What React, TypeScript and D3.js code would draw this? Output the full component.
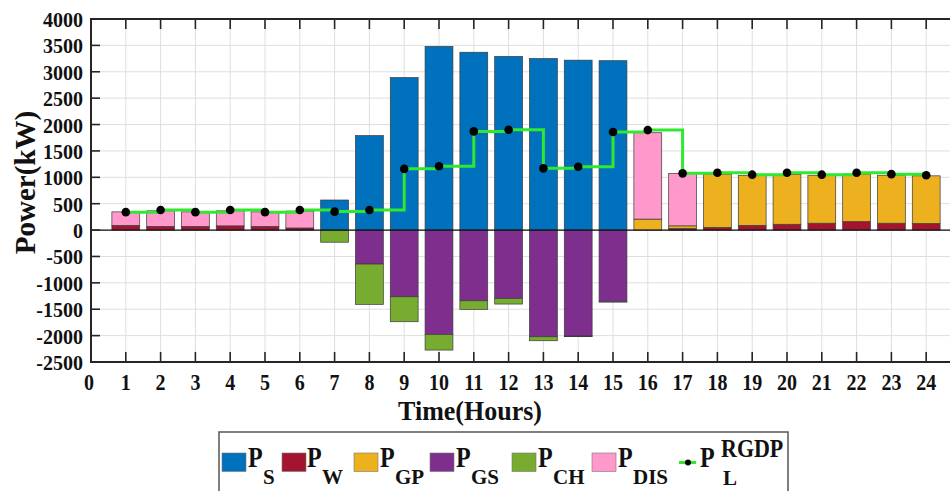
import React, { useRef, useEffect } from 'react'
import * as d3 from 'd3'

// hourly dispatch (kW)
const hours = [1, 2, 3, 4, 5, 6, 7, 8, 9, 10, 11, 12, 13, 14, 15, 16, 17, 18, 19, 20, 21, 22, 23, 24]
const pS = [0, 0, 0, 0, 0, 0, 570, 1790, 2890, 3480, 3370, 3290, 3250, 3220, 3210, 0, 0, 0, 0, 0, 0, 0, 0, 0]
const pW = [90, 70, 70, 80, 70, 40, 0, 0, 0, 0, 0, 0, 0, 0, 0, 0, 30, 50, 90, 110, 130, 160, 130, 125]
const pGP = [0, 0, 0, 0, 0, 0, 0, 0, 0, 0, 0, 0, 0, 0, 0, 208, 50, 1010, 948, 942, 909, 903, 909, 903]
const pDIS = [255, 295, 275, 285, 275, 320, 0, 0, 0, 0, 0, 0, 0, 0, 0, 1637, 994, 0, 0, 0, 0, 0, 0, 0]
const pGS = [0, 0, 0, 0, 0, 0, 0, -644, -1264, -1977, -1340, -1294, -2022, -2009, -1358, 0, 0, 0, 0, 0, 0, 0, 0, 0]
const pCH = [0, 0, 0, 0, 0, 0, -230, -764, -473, -297, -163, -108, -75, -11, -7, 0, 0, 0, 0, 0, 0, 0, 0, 0]
const pL = [340, 380, 340, 380, 340, 380, 350, 380, 1160, 1210, 1870, 1900, 1170, 1200, 1860, 1895, 1075, 1085, 1050, 1085, 1050, 1085, 1060, 1040]

const xTicks = [0, 1, 2, 3, 4, 5, 6, 7, 8, 9, 10, 11, 12, 13, 14, 15, 16, 17, 18, 19, 20, 21, 22, 23, 24, 25]
const yTicks = [-2500, -2000, -1500, -1000, -500, 0, 500, 1000, 1500, 2000, 2500, 3000, 3500, 4000]

const seriesKeys = ['S', 'W', 'GP', 'DIS', 'GS', 'CH']
const seriesValues: Record<string, number[]> = { S: pS, W: pW, GP: pGP, DIS: pDIS, GS: pGS, CH: pCH }
const colors: Record<string, string> = {
    S: '#0072bd', W: '#a2142f', GP: '#edb120', GS: '#7e2f8e', CH: '#77ac30', DIS: '#ff99cc'
}

const FONT = '"Liberation Serif", "Times New Roman", serif'

export default function App() {
    const ref = useRef<SVGSVGElement>(null)

    useEffect(() => {
        const height = 491
        const margin = { left: 91, top: 19, bottom: 129 }
        const svg = d3.select(ref.current)
        svg.selectAll('*').remove()

        const x = d3.scaleLinear().domain([0, 25]).range([margin.left, margin.left + 25 * 34.8])
        const y = d3.scaleLinear().domain([-2500, 4000]).range([height - margin.bottom, margin.top])
        const barW = 34.8 * 0.8
        const x0 = x(0), x1 = x(25), yTop = y(4000), yBot = y(-2500)

        // grid
        const grid = svg.append('g').attr('stroke', '#dedede').attr('stroke-width', 1)
        grid.selectAll('line.gx').data(xTicks).join('line')
            .attr('x1', d => x(d)).attr('x2', d => x(d)).attr('y1', yTop).attr('y2', yBot)
        grid.selectAll('line.gy').data(yTicks).join('line')
            .attr('x1', x0).attr('x2', x1).attr('y1', d => y(d)).attr('y2', d => y(d))

        // stacked bars (positive up, negative down)
        const table = hours.map((h, i) => {
            const row: any = { hour: h }
            seriesKeys.forEach(k => row[k] = seriesValues[k][i])
            return row
        })
        const stacked = d3.stack().keys(seriesKeys).offset(d3.stackOffsetDiverging)(table)
        svg.append('g').selectAll('g').data(stacked).join('g')
            .attr('fill', d => colors[d.key])
            .selectAll('rect')
            .data(d => d.filter(p => p[1] !== p[0]))
            .join('rect')
            .attr('x', d => x(d.data.hour) - barW / 2)
            .attr('width', barW)
            .attr('y', d => y(Math.max(d[0], d[1])))
            .attr('height', d => Math.abs(y(d[0]) - y(d[1])))
            .attr('stroke', '#3a3a3a')
            .attr('stroke-width', 0.7)

        // baseline
        svg.append('line').attr('x1', x0).attr('x2', x1).attr('y1', y(0)).attr('y2', y(0))
            .attr('stroke', '#111').attr('stroke-width', 1.2)

        // load line
        const line = d3.line<number>().x((d, i) => x(hours[i])).y(d => y(d)).curve(d3.curveStepAfter)
        svg.append('path').datum(pL).attr('d', line)
            .attr('fill', 'none').attr('stroke', '#2fe82f').attr('stroke-width', 3)
        svg.append('g').selectAll('circle').data(pL).join('circle')
            .attr('cx', (d, i) => x(hours[i])).attr('cy', d => y(d)).attr('r', 4.3).attr('fill', '#000')

        // axes frame + inward ticks
        const axis = svg.append('g').attr('stroke', '#262626').attr('stroke-width', 2)
        axis.append('line').attr('x1', x0).attr('x2', x0).attr('y1', yTop).attr('y2', yBot)
        axis.append('line').attr('x1', x0 - 1).attr('x2', x1).attr('y1', yBot).attr('y2', yBot)
        axis.append('line').attr('x1', x0 - 1).attr('x2', x1).attr('y1', yTop).attr('y2', yTop)
        axis.selectAll('line.tb').data(xTicks.slice(1)).join('line')
            .attr('x1', d => x(d)).attr('x2', d => x(d)).attr('y1', yBot).attr('y2', yBot - 10)
            .attr('stroke-width', 1.6)
        axis.selectAll('line.tt').data(xTicks.slice(1)).join('line')
            .attr('x1', d => x(d)).attr('x2', d => x(d)).attr('y1', yTop).attr('y2', yTop + 10)
            .attr('stroke-width', 1.6)
        axis.selectAll('line.tl').data(yTicks).join('line')
            .attr('x1', x0).attr('x2', x0 + 9).attr('y1', d => y(d)).attr('y2', d => y(d))
            .attr('stroke-width', 1.6)

        const txt = (g: any) => g
            .attr('font-family', FONT).attr('font-weight', 'bold').attr('fill', '#111')

        // tick labels
        txt(svg.append('g')).attr('font-size', 20).attr('text-anchor', 'middle')
            .selectAll('text').data(xTicks.slice(0, 25)).join('text')
            .attr('transform', (d: number) => `translate(${x(d) - (d === 0 ? 2 : 0)},390) scale(1,1.15)`)
            .text((d: number) => d)
        txt(svg.append('g')).attr('font-size', 20).attr('text-anchor', 'end')
            .selectAll('text').data(yTicks).join('text')
            .attr('transform', (d: number) => `translate(83,${y(d) + 8}) scale(1,1.1)`)
            .text((d: number) => d)

        // axis titles
        txt(svg.append('text')).attr('font-size', 29).attr('text-anchor', 'middle')
            .attr('transform', `translate(35,${(yTop + yBot) / 2 - 8}) rotate(-90)`)
            .text('Power(kW)')
        txt(svg.append('text')).attr('font-size', 26).attr('text-anchor', 'middle')
            .attr('transform', `translate(470,420) scale(1,1.05)`)
            .text('Time(Hours)')

        // legend
        const lg = svg.append('g')
        lg.append('rect').attr('x', 219).attr('y', 432).attr('width', 569).attr('height', 80)
            .attr('fill', '#fff').attr('stroke', '#555').attr('stroke-width', 1.5)
        const items = [
            { key: 'S', sx: 222, px: 248 },
            { key: 'W', sx: 282, px: 307 },
            { key: 'GP', sx: 354, px: 380 },
            { key: 'GS', sx: 430, px: 456 },
            { key: 'CH', sx: 512, px: 538 },
            { key: 'DIS', sx: 592, px: 618 }
        ]
        items.forEach(it => {
            lg.append('rect').attr('x', it.sx).attr('y', 453).attr('width', 24).attr('height', 18.5)
                .attr('fill', colors[it.key]).attr('stroke', '#777').attr('stroke-width', 0.6)
            txt(lg.append('text')).attr('font-size', 24)
                .attr('transform', `translate(${it.px},466.5) scale(1,1.25)`).text('P')
            txt(lg.append('text')).attr('font-size', 21)
                .attr('x', it.px + 15).attr('y', 483.5).text(it.key)
        })
        lg.append('line').attr('x1', 679).attr('x2', 696).attr('y1', 462.5).attr('y2', 462.5)
            .attr('stroke', '#2fe82f').attr('stroke-width', 3)
        lg.append('circle').attr('cx', 688).attr('cy', 462.5).attr('r', 3).attr('fill', '#000')
        txt(lg.append('text')).attr('font-size', 24)
            .attr('transform', `translate(700,466.5) scale(1,1.25)`).text('P')
        txt(lg.append('text')).attr('font-size', 22)
            .attr('transform', `translate(721,456.5) scale(1,1.12)`).text('RGDP')
        txt(lg.append('text')).attr('font-size', 21)
            .attr('x', 723).attr('y', 485).text('L')
    }, [])

    return (
        <svg ref={ref} width={950} height={491}
            style={{ position: 'absolute', left: 0, top: 0, background: '#fff' }} />
    )
}
